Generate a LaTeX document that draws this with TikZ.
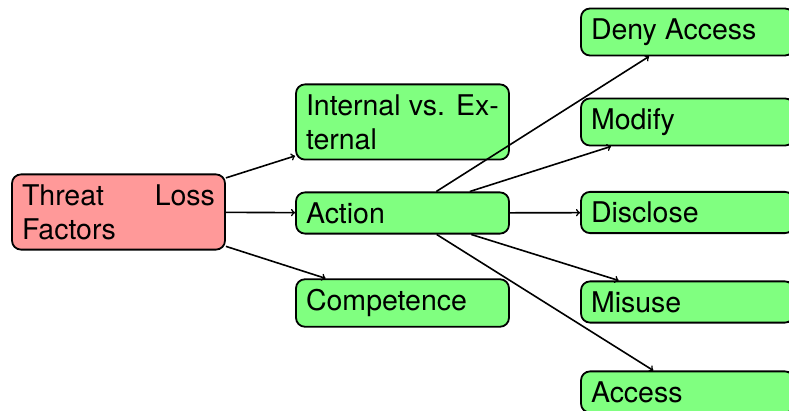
\documentclass[tikz,border=0pt]{standalone}
\usepackage{fontspec}
\setmainfont{TeX Gyre Heros}
\begin{document}
\begin{tikzpicture}[x=1pt,y=-1pt,
  box/.style={draw=black, line width=1.8pt, rounded corners=9pt,
    text width=193pt, inner sep=10pt, align=justify,
    font=\fontsize{28.5}{34}\selectfont},
  rootbox/.style={box, fill=red!40},
  leafbox/.style={box, fill=green!50},
  link/.style={->, line width=1.6pt}]
\clip (0,0) rectangle (789,411);
\useasboundingbox (0,0) rectangle (789,411);

% root
\node[rootbox] (threat) at (118.5,212) {Threat Loss Factors};

% second column
\node[leafbox] (internal) at (402.5,122) {Internal vs. External};
\node[leafbox] (action) at (402.5,213) {Action};
\node[leafbox] (competence) at (402.5,303) {Competence};

% third column
\node[leafbox] (deny) at (687.5,32) {Deny Access};
\node[leafbox] (modify) at (687.5,122) {Modify};
\node[leafbox] (disclose) at (687.5,212.5) {Disclose};
\node[leafbox] (misuse) at (687.5,302) {Misuse};
\node[leafbox] (access) at (687.5,392) {Access};

% connectors
\draw[link] (threat) -- (internal);
\draw[link] (threat) -- (action);
\draw[link] (threat) -- (competence);
\draw[link] (action) -- (deny);
\draw[link] (action) -- (modify);
\draw[link] (action) -- (disclose);
\draw[link] (action) -- (misuse);
\draw[link] (action) -- (access);
\end{tikzpicture}
\end{document}
